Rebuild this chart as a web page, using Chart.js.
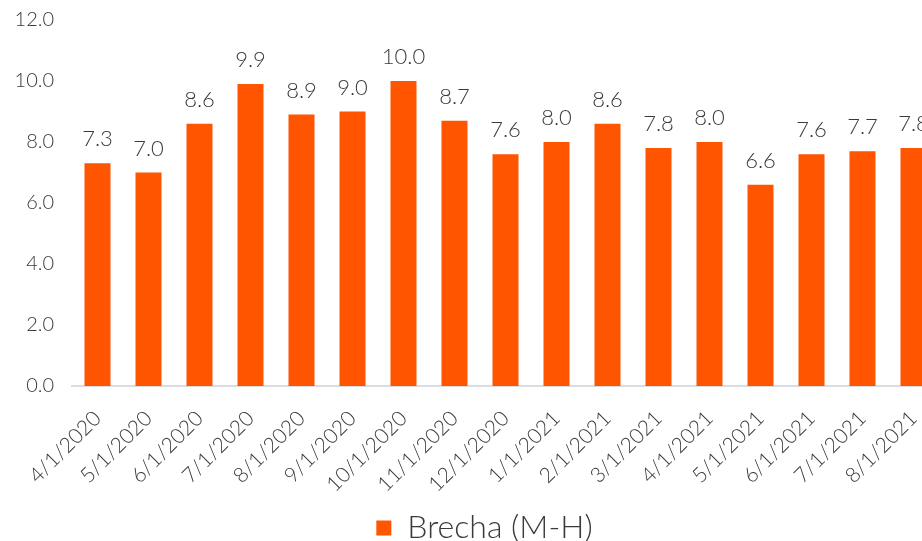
<!DOCTYPE html>
<html>
<head>
<meta charset="utf-8">
<script src="https://cdn.jsdelivr.net/npm/chart.js@4/dist/chart.umd.min.js"></script>
<style>
html,body{margin:0;padding:0;overflow:hidden;background:#fff;}
#wrap{position:relative;width:939px;height:541px;}
</style>
</head>
<body>
<div id="wrap"><canvas id="c"></canvas></div>
<script>
const categories = ["4/1/2020","5/1/2020","6/1/2020","7/1/2020","8/1/2020","9/1/2020","10/1/2020","11/1/2020","12/1/2020","1/1/2021","2/1/2021","3/1/2021","4/1/2021","5/1/2021","6/1/2021","7/1/2021","8/1/2021"];
const brecha = [7.3,7.0,8.6,9.9,8.9,9.0,10.0,8.7,7.6,8.0,8.6,7.8,8.0,6.6,7.6,7.7,7.8];
const seriesName = "Brecha (M-H)";
const yTicks = [0,2,4,6,8,10,12];

const FONT = "Lato, 'Open Sans', sans-serif";
const TEXT = "#3a3a3a";

const labelPlugin = {
  id: 'barLabels',
  afterLayout(chart) {
    if (chart.legend) { chart.legend.left += 15; chart.legend.right += 15; }
  },
  afterDatasetsDraw(chart) {
    const ctx = chart.ctx;
    const meta = chart.getDatasetMeta(0);
    ctx.save();
    ctx.font = "300 22px " + FONT;
    ctx.fillStyle = TEXT;
    ctx.textAlign = 'center';
    ctx.textBaseline = 'alphabetic';
    meta.data.forEach((el, i) => {
      ctx.fillText(brecha[i].toFixed(1), el.x, el.y - 17);
    });
    ctx.restore();
  }
};

new Chart(document.getElementById('c'), {
  type: 'bar',
  data: {
    labels: categories,
    datasets: [{
      label: seriesName,
      data: brecha,
      backgroundColor: '#FF5500',
      borderWidth: 0,
      categoryPercentage: 1,
      barPercentage: 0.51
    }]
  },
  options: {
    responsive: true,
    maintainAspectRatio: false,
    animation: false,
    layout: { padding: { top: 20, left: 0, right: 0, bottom: -13 } },
    plugins: {
      tooltip: { enabled: false },
      legend: {
        position: 'bottom',
        labels: {
          font: { family: FONT, size: 32, weight: 300 },
          color: TEXT,
          boxWidth: 15,
          boxHeight: 15,
          padding: 2
        }
      }
    },
    scales: {
      x: {
        grid: { display: false, drawTicks: false },
        border: { display: true, color: '#D9DDE1', width: 2 },
        ticks: {
          color: TEXT,
          font: { family: FONT, size: 21, weight: 300 },
          maxRotation: 45,
          minRotation: 45,
          autoSkip: false,
          padding: 20
        },
        afterFit(s) { s.height = 124; s.paddingLeft = 0; s.paddingRight = 0; }
      },
      y: {
        min: 0,
        max: 12,
        grid: { display: false, drawTicks: false },
        border: { display: false },
        afterBuildTicks(s) { s.ticks = yTicks.map(v => ({ value: v })); },
        ticks: {
          color: TEXT,
          font: { family: FONT, size: 20, weight: 300 },
          padding: 18,
          callback: v => Number(v).toFixed(1)
        },
        afterFit(s) { s.width = 72; s.paddingTop = 0; s.paddingBottom = 0; }
      }
    }
  },
  plugins: [labelPlugin]
});
</script>
</body>
</html>
